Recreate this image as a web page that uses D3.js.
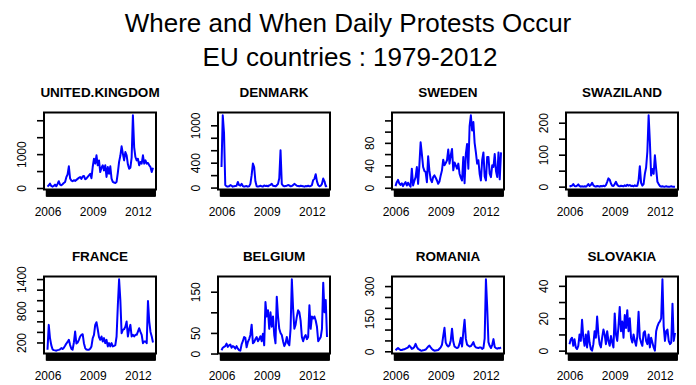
<!DOCTYPE html>
<html lang="en">

<head>
  <meta charset="UTF-8" />
  <title>protests</title>
  <script src="https://cdn.jsdelivr.net/npm/d3@7/dist/d3.min.js"></script>
  <style>
    body { margin: 0; background: #fff; }
    text { font-family: "Liberation Sans", Arial, sans-serif; }
  </style>
</head>

<body>
  <svg id="svg"></svg>
</body>

<script>
  // monthly counts, Jan 2006 .. Jan 2013
  const countries = ["UNITED.KINGDOM", "DENMARK", "SWEDEN", "SWAZILAND", "FRANCE", "BELGIUM", "ROMANIA", "SLOVAKIA"];
  const yearLabels = ["2006", "2009", "2012"];
  const yearIndex = [0, 36, 72];

  const uk = [40,80,130,60,40,60,100,50,120,200,100,80,110,150,180,320,400,640,280,220,200,230,210,240,270,300,325,270,340,355,260,280,330,375,420,290,620,865,720,965,670,815,470,600,670,520,670,325,620,420,640,275,180,160,150,180,450,770,950,1230,1015,815,1060,965,700,570,600,900,2145,1200,915,815,865,670,770,720,965,720,815,720,740,670,620,470,600];
  const denmark = [330,1160,880,40,20,15,20,40,30,15,20,25,30,90,40,30,60,25,15,20,25,15,20,60,200,385,330,100,20,15,20,30,20,15,35,25,30,20,35,45,60,30,25,20,35,60,150,600,60,30,20,25,30,40,35,20,25,40,60,45,30,25,20,30,25,20,15,25,20,30,20,25,40,120,140,215,100,40,20,30,60,145,100,20,30];
  const sweden = [3,10,14,8,5,8,3,7,10,4,9,5,2,34,4,12,19,37,7,40,81,60,37,30,28,10,56,30,15,10,19,22,18,13,7,11,22,31,50,40,44,49,68,43,58,69,31,45,40,34,43,25,18,13,55,8,60,78,34,110,129,102,117,80,63,43,49,25,13,49,63,20,13,55,55,25,19,40,37,60,30,19,63,15,63];
  const swaziland = [0,2,3,8,2,1,3,7,2,0,1,0,1,0,3,8,2,5,12,4,1,0,2,1,0,2,1,3,1,5,15,26,22,10,3,2,8,15,6,2,1,3,2,1,4,2,6,3,5,2,3,1,4,2,3,20,64,12,3,8,40,60,110,223,140,35,55,40,98,55,15,8,2,0,1,0,0,1,0,0,0,1,0,0,0];
  const france = [62,533,280,150,70,55,50,45,55,60,70,93,75,100,137,180,210,250,150,80,65,200,407,180,200,250,313,345,357,187,93,65,62,62,80,125,280,345,533,583,450,300,250,313,219,282,187,250,125,187,125,187,125,137,150,313,900,1395,1005,376,439,451,500,596,313,450,533,313,345,313,345,345,407,470,400,345,187,219,219,187,986,600,400,313,200];
  const belgium = [8,14,16,18,24,16,20,22,14,18,16,12,18,12,8,7,22,30,40,38,15,28,35,45,70,25,28,35,40,30,35,42,30,48,20,125,90,105,60,100,65,90,45,25,138,90,60,50,45,30,18,25,40,25,20,60,180,110,60,70,90,105,100,80,40,30,40,45,35,40,117,60,90,85,90,80,65,30,35,40,60,172,100,130,40];
  const romania = [5,10,15,10,6,6,8,9,12,15,18,26,20,11,14,20,34,20,11,8,4,3,5,6,8,15,22,26,18,11,6,3,4,5,6,12,18,30,70,108,40,28,22,28,50,104,45,22,18,15,18,35,62,22,90,145,57,30,26,22,24,32,42,25,18,16,15,18,18,11,15,60,331,204,42,25,15,30,56,20,15,12,15,14,18];
  const slovakia = [4,7,8,3,7,2,1,3,10,6,19,8,3,10,2,12,5,1,0,4,12,8,21,10,4,2,8,13,10,4,12,6,3,9,5,2,23,10,6,15,27,12,18,8,22,14,25,12,20,8,5,10,6,3,9,24,8,5,3,11,12,6,4,10,2,8,5,2,0,12,15,17,18,20,44,15,6,12,13,6,4,5,29,6,11];

  const series = [uk, denmark, sweden, swaziland, france, belgium, romania, slovakia];

  // y ticks; R drops labels that would overlap, so some are blank
  const yTickValues = [
    [0, 500, 1000, 1500, 2000],
    [0, 200, 400, 600, 800, 1000],
    [0, 20, 40, 60, 80, 100, 120],
    [0, 50, 100, 150, 200],
    [200, 400, 600, 800, 1000, 1200, 1400],
    [0, 50, 100, 150],
    [0, 50, 100, 150, 200, 250, 300],
    [0, 10, 20, 30, 40],
  ];
  const yTickLabels = [
    ["0", "", "1000", "", ""],
    ["0", "", "400", "", "", "1000"],
    ["0", "", "40", "", "80", "", ""],
    ["0", "", "100", "", "200"],
    ["200", "", "", "800", "", "", "1400"],
    ["0", "50", "", "150"],
    ["0", "", "", "150", "", "", "300"],
    ["0", "", "20", "", "40"],
  ];

  const width = 696;
  const height = 385;
  const cellW = 174;
  const cellH = 164;

  const svg = d3.select("#svg").attr("width", width).attr("height", height);

  // main title
  svg.append("text")
    .text("Where and When Daily Protests Occur")
    .attr("x", 348).attr("y", 31.5)
    .attr("text-anchor", "middle")
    .attr("font-size", "26px");
  svg.append("text")
    .text("EU countries : 1979-2012")
    .attr("x", 350).attr("y", 66)
    .attr("text-anchor", "middle")
    .attr("font-size", "26px");

  countries.forEach((name, k) => {
    const data = series[k];
    const cx = (k % 4) * cellW;
    const cy = Math.floor(k / 4) * cellH;
    const left = cx + 44, right = cx + 156;
    const top = cy + 112.5, bottom = cy + 189.5;

    const g = svg.append("g");

    const xScale = d3.scaleLinear()
      .domain([0, data.length - 1])
      .range([cx + 47.5, cx + 153]);

    // R style 4% padding on the data range
    const lo = d3.min(data), hi = d3.max(data);
    const pad = (hi - lo) * 0.04;
    const yScale = d3.scaleLinear()
      .domain([lo - pad, hi + pad])
      .range([bottom, top]);

    // panel title
    g.append("text")
      .text(name)
      .attr("x", (left + right) / 2)
      .attr("y", cy + 96.7)
      .attr("text-anchor", "middle")
      .attr("font-size", "13.5px")
      .attr("font-weight", "bold");

    // dense month ticks -> black bar
    const xTicks = d3.axisBottom(xScale)
      .tickValues(d3.range(-1.3, 85.6, 0.25))
      .tickSize(7)
      .tickFormat("");
    g.append("g")
      .attr("transform", `translate(0, ${bottom})`)
      .call(xTicks)
      .call((a) => a.select(".domain").remove())
      .call((a) => a.selectAll("line").attr("stroke", "#000").attr("stroke-width", 1.2));

    // year labels
    const xLabels = d3.axisBottom(xScale)
      .tickValues(yearIndex)
      .tickSize(0)
      .tickFormat((d, i) => yearLabels[i]);
    g.append("g")
      .attr("transform", `translate(0, ${bottom})`)
      .call(xLabels)
      .call((a) => a.select(".domain").remove())
      .call((a) => a.selectAll("text")
        .attr("y", 26.5).attr("dy", 0)
        .attr("font-size", "12px").attr("fill", "#000")
        .attr("font-family", "Liberation Sans, Arial, sans-serif"));

    // y axis, labels rotated like R's las=0
    const yAxis = d3.axisLeft(yScale)
      .tickValues(yTickValues[k])
      .tickSize(7)
      .tickFormat((d, i) => yTickLabels[k][i]);
    g.append("g")
      .attr("transform", `translate(${left}, 0)`)
      .call(yAxis)
      .call((a) => a.select(".domain").remove())
      .call((a) => a.selectAll("line").attr("stroke", "#000").attr("stroke-width", 1.6))
      .call((a) => a.selectAll("text")
        .attr("x", 0).attr("y", -18).attr("dy", 0)
        .attr("transform", "rotate(-90)")
        .attr("text-anchor", "middle")
        .attr("font-size", "12px").attr("fill", "#000")
        .attr("font-family", "Liberation Sans, Arial, sans-serif"));

    // the series
    const line = d3.line()
      .x((d, i) => xScale(i))
      .y((d) => yScale(d));
    g.append("path")
      .datum(data)
      .attr("d", line)
      .attr("fill", "none")
      .attr("stroke", "#0000ff")
      .attr("stroke-width", 2)
      .attr("stroke-linejoin", "round");

    // box
    g.append("rect")
      .attr("x", left).attr("y", top)
      .attr("width", right - left).attr("height", bottom - top)
      .attr("fill", "none")
      .attr("stroke", "#000")
      .attr("stroke-width", 2);
  });
</script>

</html>
